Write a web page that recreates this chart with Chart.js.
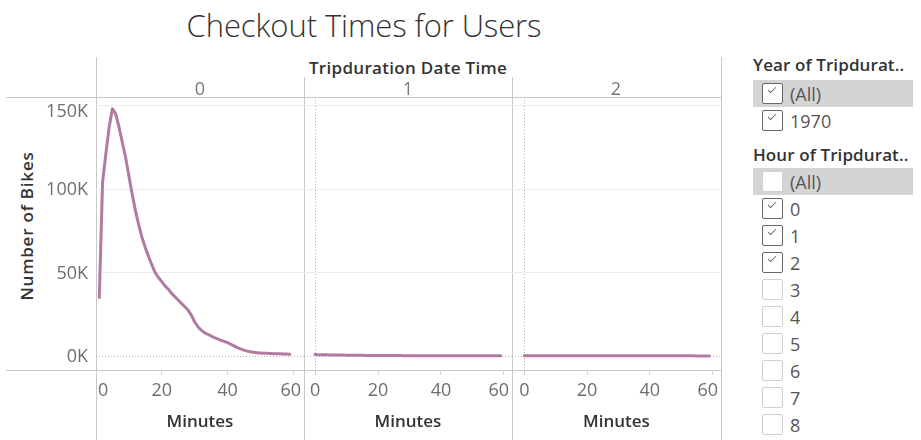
<!DOCTYPE html>
<html><head><meta charset="utf-8">
<script src="https://cdn.jsdelivr.net/npm/chart.js@4.4.0/dist/chart.umd.min.js"></script>
<style>
body{margin:0;width:921px;height:440px;background:#fff;position:relative;overflow:hidden;font-family:"Open Sans",sans-serif;}
.hl{position:absolute;height:1px;background:#c8c8c8;}
.vl{position:absolute;width:1px;background:#c8c8c8;}
.title{position:absolute;left:0;width:728px;top:4px;text-align:center;font-size:31px;font-weight:300;color:#333;letter-spacing:-0.1px;}
.hdr{position:absolute;font-size:17px;font-weight:600;color:#333;white-space:nowrap;letter-spacing:0.3px;transform:translate(-50%,-50%);}
.part{position:absolute;font-size:18px;color:#777;transform:translate(-50%,-50%);}
.ytitle{position:absolute;font-size:17px;font-weight:600;color:#333;white-space:nowrap;letter-spacing:0.8px;transform:translate(-50%,-50%) rotate(-90deg);}
canvas{position:absolute;}
.lg-h{position:absolute;left:753px;font-size:17px;font-weight:600;color:#333;white-space:nowrap;letter-spacing:0.1px;transform:translateY(-50%);}
.row{position:absolute;left:753px;width:160px;height:27px;}
.row.sel{background:#d4d4d4;}
.cb{position:absolute;left:9px;top:3px;width:21px;height:21px;box-sizing:border-box;border:1px solid #cfcfcf;background:#fff;border-radius:2px;}
.cb.on{border-color:#666;}
.cb.on::after{content:"";position:absolute;left:5px;top:3px;width:7px;height:3px;border-left:1.8px solid #6a6a6a;border-bottom:1.8px solid #6a6a6a;transform:rotate(-45deg);}
.lbl{position:absolute;left:37px;top:50%;transform:translateY(-50%);font-size:18px;color:#555;}
</style></head><body>

<div class="title">Checkout Times for Users</div>
<div class="hdr" style="left:408px;top:67px;">Tripduration Date Time</div>
<div class="ytitle" style="left:26px;top:226px;">Number of Bikes</div>

<div class="hl" style="left:6px;width:715px;top:97px;"></div>
<div class="hl" style="left:6px;width:715px;top:370px;"></div>
<div class="vl" style="left:96px;top:57px;height:383px;"></div>
<div class="vl" style="left:304px;top:77px;height:363px;"></div>
<div class="vl" style="left:512px;top:77px;height:363px;"></div>
<div class="vl" style="left:721px;top:57px;height:383px;"></div>

<canvas id="p0" width="304" height="343" style="left:0px;top:97px;"></canvas>
<canvas id="p1" width="208" height="343" style="left:304px;top:97px;"></canvas>
<canvas id="p2" width="209" height="343" style="left:512px;top:97px;"></canvas>

<div id="legend"></div>

<script>
// ---------- DATA ----------
const panelLabels = ['0', '1', '2'];
const xAxisTitle = 'Minutes';

const minutesHour0 = [1,2,3,4,5,6,7,8,9,10,11,12,13,14,15,16,17,18,19,20,21,22,23,24,25,26,27,28,29,30,31,32,33,34,35,36,37,38,39,40,41,42,43,44,45,46,47,48,49,50,51,52,53,54,55,56,57,58,59];
const bikesHour0 = [35000,104000,121000,137000,148000,145000,137000,128000,119000,108000,97000,87000,78500,71000,65000,59500,54500,50000,47000,44500,42000,40000,37500,35500,33500,31500,29500,27500,24500,20500,17500,15500,14000,13000,12000,11000,10200,9400,8700,8000,7000,6000,5000,4200,3500,2900,2500,2200,2000,1800,1700,1600,1500,1400,1300,1300,1200,1200,1100];

const minutesHour1 = [0,1,2,3,4,5,6,7,8,9,10,11,12,13,14,15,16,17,18,19,20,21,22,23,24,25,26,27,28,29,30,31,32,33,34,35,36,37,38,39,40,41,42,43,44,45,46,47,48,49,50,51,52,53,54,55,56,57,58,59];
const bikesHour1 = [850,800,760,720,680,640,600,570,540,510,480,455,430,410,390,370,350,335,320,305,290,278,265,255,245,235,225,215,205,198,190,183,176,170,164,158,152,147,142,137,133,129,125,121,117,114,111,108,105,102,99,96,93,91,89,87,85,83,81,79];

const minutesHour2 = [0,1,2,3,4,5,6,7,8,9,10,11,12,13,14,15,16,17,18,19,20,21,22,23,24,25,26,27,28,29,30,31,32,33,34,35,36,37,38,39,40,41,42,43,44,45,46,47,48,49,50,51,52,53,54,55,56,57,58,59];
const bikesHour2 = [170,160,155,150,146,142,138,134,130,127,124,121,118,115,112,110,108,106,104,102,100,98,96,94,92,90,88,87,86,85,84,83,82,81,80,79,78,77,76,75,74,73,72,71,70,69,68,67,66,65,64,63,62,61,60,59,58,57,56,55];

const yTickValues = [0, 50000, 100000, 150000];
const yTickLabels = ['0K', '50K', '100K', '150K'];
const xTickValues = [0, 20, 40, 60];
const xTickLabels = ['0', '20', '40', '60'];

const yearItems = ['(All)', '1970'];
const yearChecked = [true, true];
const hourItems = ['(All)', '0', '1', '2', '3', '4', '5', '6', '7', '8'];
const hourChecked = [false, true, true, true, false, false, false, false, false, false];

// ---------- LAYOUT / STYLE ----------
const LINE_COLOR = '#B07AA1';
const FONT = '"Open Sans", sans-serif';
const Y_MIN = -8400, Y_MAX = 155100;

const panelDefs = [
  {id: 'p0', xs: minutesHour0, ys: bikesHour0, xmin: 0, xmax: 63.3, yAxisWidth: 96},
  {id: 'p1', xs: minutesHour1, ys: bikesHour1, xmin: -3.5, xmax: 62.55, yAxisWidth: 0},
  {id: 'p2', xs: minutesHour2, ys: bikesHour2, xmin: -3.95, xmax: 62.7, yAxisWidth: 0}
];

const panelPlugin = {
  id: 'tableauPane',
  beforeDatasetsDraw(chart, args, opts) {
    const ctx = chart.ctx, a = chart.chartArea;
    const xs = chart.scales.x, ys = chart.scales.y;
    ctx.save();
    ctx.strokeStyle = '#b5b5b5';
    ctx.lineWidth = 1;
    ctx.setLineDash([1, 2]);
    const y0 = Math.round(ys.getPixelForValue(0)) + 0.5;
    ctx.beginPath(); ctx.moveTo(a.left, y0); ctx.lineTo(a.right, y0); ctx.stroke();
    const x0 = Math.round(xs.getPixelForValue(0)) + 0.5;
    if (x0 > a.left + 2) {
      ctx.beginPath(); ctx.moveTo(x0, a.top); ctx.lineTo(x0, a.bottom + 5); ctx.stroke();
    }
    ctx.restore();
  },
  afterDraw(chart, args, opts) {
    const ctx = chart.ctx, a = chart.chartArea;
    const xs = chart.scales.x, ys = chart.scales.y;
    ctx.save();
    ctx.font = '18px ' + FONT;
    ctx.fillStyle = '#6e6e6e';
    ctx.textBaseline = 'middle';
    ctx.textAlign = 'left';
    xTickValues.forEach((v, i) => {
      const t = xTickLabels[i];
      const w = ctx.measureText(t).width;
      let left = xs.getPixelForValue(v) - w / 2;
      left = Math.max(a.left + 2, Math.min(a.right - 3 - w, left));
      ctx.fillText(t, left, a.bottom + 21);
    });
    if (opts.showY) {
      ctx.textAlign = 'right';
      yTickValues.forEach((v, i) => {
        let py = ys.getPixelForValue(v);
        py = Math.max(a.top + 14, Math.min(a.bottom - 8, py));
        ctx.fillText(yTickLabels[i], 88, py + 1);
      });
    }
    ctx.font = '600 17px ' + FONT;
    ctx.fillStyle = '#333';
    ctx.textAlign = 'center';
    ctx.fillText(xAxisTitle, (a.left + a.right) / 2, a.bottom + 52);
    ctx.restore();
  }
};

panelDefs.forEach(p => {
  const pts = p.xs.map((x, i) => ({x: x, y: p.ys[i]}));
  new Chart(document.getElementById(p.id), {
    type: 'line',
    data: {datasets: [{data: pts, borderColor: LINE_COLOR, borderWidth: 3, pointRadius: 0, tension: 0, fill: false, borderJoinStyle: 'round', borderCapStyle: 'round'}]},
    options: {
      responsive: false, animation: false,
      layout: {padding: 0},
      plugins: {legend: {display: false}, tooltip: {enabled: false}, title: {display: false}, tableauPane: {showY: p.yAxisWidth > 0}},
      scales: {
        x: {
          type: 'linear', min: p.xmin, max: p.xmax,
          afterBuildTicks: s => { s.ticks = xTickValues.map(v => ({value: v})); },
          afterFit: s => { s.height = 70; },
          ticks: {display: false},
          border: {display: false},
          grid: {display: true, drawOnChartArea: false, drawTicks: true, tickLength: 5, tickColor: '#d2d2d2', color: '#d2d2d2'}
        },
        y: {
          type: 'linear', min: Y_MIN, max: Y_MAX,
          afterBuildTicks: s => { s.ticks = yTickValues.map(v => ({value: v})); },
          afterFit: s => { s.width = p.yAxisWidth; },
          ticks: {display: false},
          border: {display: false},
          grid: {drawTicks: false, color: c => (c.tick && c.tick.value === 0) ? 'rgba(0,0,0,0)' : '#ececec', lineWidth: 1}
        }
      }
    },
    plugins: [panelPlugin]
  });
});

// partition header labels
const centers = [200, 408, 616];
panelLabels.forEach((t, i) => {
  const d = document.createElement('div');
  d.className = 'part'; d.textContent = t;
  d.style.left = centers[i] + 'px'; d.style.top = '88px';
  document.body.appendChild(d);
});

// filter legends
const lg = document.getElementById('legend');
function addHeader(text, y) {
  const d = document.createElement('div');
  d.className = 'lg-h'; d.textContent = text; d.style.top = y + 'px';
  lg.appendChild(d);
}
function addRows(items, checked, startCenter) {
  items.forEach((t, i) => {
    const r = document.createElement('div');
    r.className = 'row' + (t === '(All)' ? ' sel' : '');
    r.style.top = (startCenter + i * 27 - 13.5) + 'px';
    const cb = document.createElement('div');
    cb.className = 'cb' + (checked[i] ? ' on' : '');
    const l = document.createElement('div');
    l.className = 'lbl'; l.textContent = t;
    r.appendChild(cb); r.appendChild(l);
    lg.appendChild(r);
  });
}
addHeader('Year of Tripdurat..', 64);
addRows(yearItems, yearChecked, 93.5);
addHeader('Hour of Tripdurat..', 154);
addRows(hourItems, hourChecked, 181.5);
</script>
</body></html>
